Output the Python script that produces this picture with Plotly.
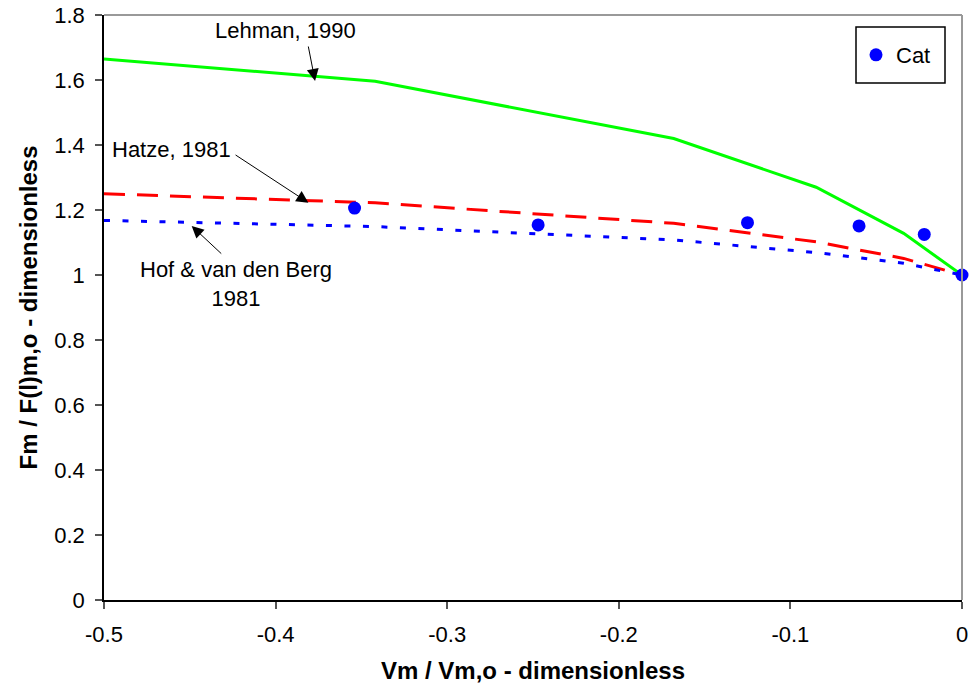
import plotly.graph_objects as go

# ---- data ----
lehman_x = [-0.5, -0.342, -0.168, -0.085, -0.034, 0.0]
lehman_y = [1.665, 1.596, 1.420, 1.270, 1.128, 1.0]

hatze_x = [-0.5, -0.342, -0.168, -0.085, -0.034, 0.0]
hatze_y = [1.250, 1.222, 1.159, 1.102, 1.051, 1.0]

hof_x = [-0.5, -0.342, -0.168, -0.085, -0.034, 0.0]
hof_y = [1.168, 1.149, 1.108, 1.069, 1.036, 1.0]

cat_x = [-0.354, -0.247, -0.125, -0.060, -0.022, 0.0]
cat_y = [1.206, 1.154, 1.161, 1.151, 1.125, 1.0]

x_tickvals = [-0.5, -0.4, -0.3, -0.2, -0.1, 0]
x_ticktext = ["-0.5", "-0.4", "-0.3", "-0.2", "-0.1", "0"]
y_tickvals = [0, 0.2, 0.4, 0.6, 0.8, 1.0, 1.2, 1.4, 1.6, 1.8]
y_ticktext = ["0", "0.2", "0.4", "0.6", "0.8", "1", "1.2", "1.4", "1.6", "1.8"]

FONT = "Arial, 'Liberation Sans', sans-serif"

fig = go.Figure()
fig.add_trace(go.Scatter(x=lehman_x, y=lehman_y, mode="lines", showlegend=False,
                         line=dict(color="#00ff00", width=3)))
fig.add_trace(go.Scatter(x=hatze_x, y=hatze_y, mode="lines", showlegend=False,
                         line=dict(color="#ff0000", width=3, dash="21px,12px")))
fig.add_trace(go.Scatter(x=hof_x, y=hof_y, mode="lines", showlegend=False,
                         line=dict(color="#0000ff", width=3, dash="6px,12.5px")))
fig.add_trace(go.Scatter(x=cat_x, y=cat_y, mode="markers", name="Cat",
                         marker=dict(color="#0000ff", size=13), cliponaxis=False))

ann_font = dict(family=FONT, size=22, color="black")
arrow = dict(xref="x", yref="y", axref="x", ayref="y", text="", showarrow=True,
             arrowhead=2, arrowsize=2.4, arrowwidth=1, arrowcolor="black")
annotations = [
    dict(x=-0.394, y=1.751, text="Lehman, 1990", showarrow=False, font=ann_font,
         xref="x", yref="y"),
    dict(x=-0.4604, y=1.3877, text="Hatze, 1981", showarrow=False, font=ann_font,
         xref="x", yref="y"),
    dict(x=-0.4228, y=0.973, text="Hof & van den Berg<br>1981", showarrow=False,
         font=ann_font, xref="x", yref="y", align="center"),
    dict(x=-0.377, y=1.597, ax=-0.3811, ay=1.7077, **arrow),
    dict(x=-0.3809, y=1.2225, ax=-0.4242, ay=1.3723, **arrow),
    dict(x=-0.4489, y=1.1508, ax=-0.4308, ay=1.0615, **arrow),
]

shapes = [
    dict(type="line", xref="paper", yref="paper", x0=0, x1=1, y0=1, y1=1,
         line=dict(color="#999999", width=2)),
    dict(type="line", xref="paper", yref="paper", x0=1, x1=1, y0=0, y1=1,
         line=dict(color="#999999", width=2)),
    dict(type="rect", xref="paper", yref="paper",
         x0=(856 - 104) / 858, x1=(945 - 104) / 858,
         y0=(600 - 83) / 585, y1=(600 - 27) / 585,
         line=dict(color="black", width=1.5), fillcolor="white", layer="below"),
]

fig.update_layout(
    width=971, height=694,
    margin=dict(l=104, r=9, t=15, b=94),
    paper_bgcolor="white", plot_bgcolor="white",
    font=dict(family=FONT, size=22, color="black"),
    showlegend=True,
    legend=dict(x=(856 - 104) / 858, xanchor="left", y=(600 - 55) / 585,
                yanchor="middle", bgcolor="rgba(0,0,0,0)", borderwidth=0,
                font=dict(family=FONT, size=22, color="black")),
    annotations=annotations,
    shapes=shapes,
    xaxis=dict(range=[-0.5, 0], tickvals=x_tickvals, ticktext=x_ticktext,
               automargin=False, ticklabeloverflow="allow",
               showgrid=False, zeroline=False, showline=True, linecolor="black",
               linewidth=1.5, ticks="outside", ticklen=7, tickcolor="#555555",
               tickwidth=1.5, ticklabelstandoff=7,
               tickfont=dict(family=FONT, size=22),
               title=dict(text="<b>Vm / Vm,o - dimensionless</b>",
                          font=dict(family=FONT, size=24), standoff=16)),
    yaxis=dict(range=[0, 1.8], tickvals=y_tickvals, ticktext=y_ticktext,
               automargin=False, ticklabeloverflow="allow",
               showgrid=False, zeroline=False, showline=True, linecolor="black",
               linewidth=1.5, ticks="outside", ticklen=7, tickcolor="#555555",
               tickwidth=1.5, ticklabelstandoff=6,
               tickfont=dict(family=FONT, size=22),
               title=dict(text="<b>Fm / F(l)m,o - dimensionless</b>",
                          font=dict(family=FONT, size=24), standoff=10)),
)

# remove the default 8px page margin so the figure fills the window exactly
fig.write_html("out.html",
               config={"displayModeBar": False},
               post_script="document.body.style.margin='0';"
                           "document.body.style.overflow='hidden';")
